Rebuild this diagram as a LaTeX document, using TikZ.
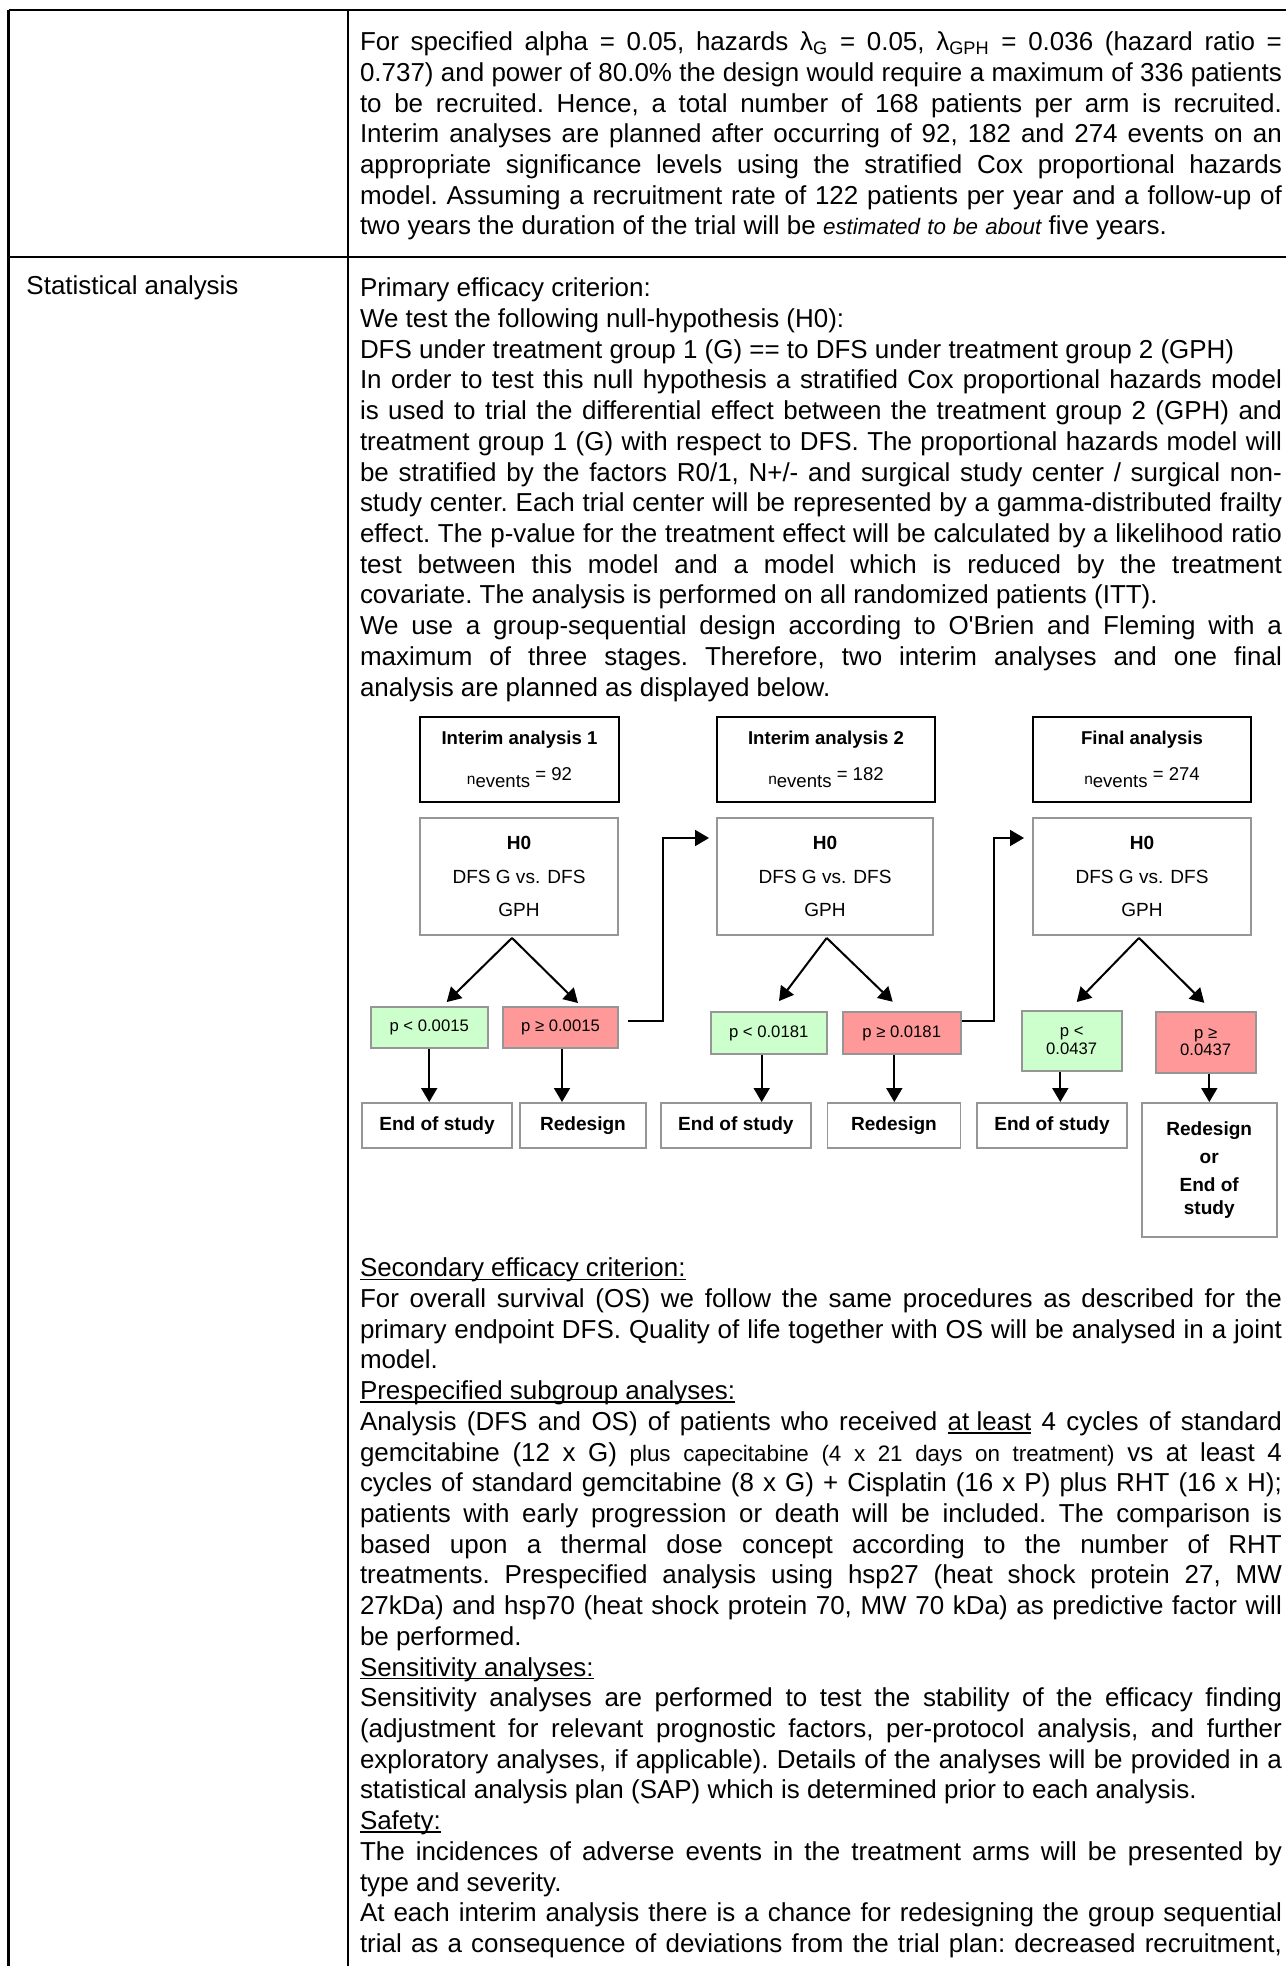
\documentclass[tikz,border=0pt]{standalone}
\usepackage{fontspec}
\setmainfont{Liberation Sans}
\usetikzlibrary{arrows.meta}

\definecolor{okgreen}{RGB}{204,255,204}
\definecolor{nored}{RGB}{255,153,153}
\definecolor{boxgray}{RGB}{150,150,150}

% one justified line / one flush-left line of the protocol text (column 387.2pt wide)
\newcommand\jl[1]{\par\noindent\hbox to 387.2pt{\spaceskip=3.03pt plus 4pt minus 1.2pt\relax\strut#1}}
\newcommand\fl[1]{\par\noindent\hbox to 387.2pt{\spaceskip=3.03pt plus 4pt minus 1.2pt\relax\strut#1\hfil}}
\newcommand\bodyfont{\fontsize{10.9}{12.9}\selectfont\frenchspacing}
\newcommand\smallpart{\fontsize{9.4}{12.9}\selectfont}
% underline that keeps the line depth unchanged
\newsavebox\ulbox
\newcommand\ul[1]{\sbox\ulbox{#1}\rlap{\rule[-1.4pt]{\wd\ulbox}{0.6pt}}\usebox\ulbox}
% number of events label
\newcommand\nev[1]{\raisebox{-1.7pt}{\fontsize{6.5}{7}\selectfont n}\raisebox{-3.2pt}{events} = #1}

\begin{document}
\begin{tikzpicture}[x=0.42pt,y=-0.42pt,
  tbl/.style={line width=0.85pt},
  body/.style={anchor=north west, inner sep=0pt, outer sep=0pt, text width=387.2pt, font=\bodyfont},
  sz/.style 2 args={minimum width=#1*0.42pt, minimum height=#2*0.42pt},
  head/.style={draw=black, line width=0.85pt, inner sep=0pt, align=center, font=\fontsize{7.8}{15.1}\selectfont},
  hyp/.style={draw=boxgray, line width=0.8pt, inner sep=0pt, align=center, font=\fontsize{8}{14}\selectfont},
  pyes/.style={draw=boxgray, fill=okgreen, line width=0.8pt, inner sep=0pt, align=center, font=\fontsize{7}{7.3}\selectfont},
  pno/.style={draw=boxgray, fill=nored, line width=0.8pt, inner sep=0pt, align=center, font=\fontsize{7}{7.3}\selectfont},
  outc/.style={draw=boxgray, line width=0.8pt, inner sep=0pt, align=center, font=\bfseries\fontsize{8}{9.7}\selectfont},
  arr/.style={-{Triangle[length=5.9pt,width=6.7pt]}, line width=0.85pt}]

\useasboundingbox (0,0) rectangle (1286,1966);
\fill[white] (0,0) rectangle (1286,1966);

% table rules
\draw[tbl] (8.5,10) -- (1286,10);
\draw[tbl] (8.5,257) -- (1286,257);
\draw[tbl] (8.5,10) -- (8.5,1966);
\draw[tbl] (348,10) -- (348,1966);

% first row: sample size
\node[body] (para1) at (360,20) {%
\jl{For specified alpha = 0.05, hazards λ\textsubscript{G} = 0.05, λ\textsubscript{GPH} = 0.036 (hazard ratio =}%
\jl{0.737) and power of 80.0\% the design would require a maximum of 336 patients}%
\jl{to be recruited. Hence, a total number of 168 patients per arm is recruited.}%
\jl{Interim analyses are planned after occurring of 92, 182 and 274 events on an}%
\jl{appropriate significance levels using the stratified Cox proportional hazards}%
\jl{model. Assuming a recruitment rate of 122 patients per year and a follow-up of}%
\fl{two years the duration of the trial will be {\smallpart\itshape estimated to be about} five years.}%
};

% second row: statistical analysis
\node[anchor=base west, inner sep=0pt, font=\bodyfont] (lbl) at (26,295) {Statistical analysis};

\node[body] (para2) at (360,266) {%
\fl{Primary efficacy criterion:}%
\fl{We test the following null-hypothesis (H0):}%
\fl{DFS under treatment group 1 (G) == to DFS under treatment group 2 (GPH)}%
\jl{In order to test this null hypothesis a stratified Cox proportional hazards model}%
\jl{is used to trial the differential effect between the treatment group 2 (GPH) and}%
\jl{treatment group 1 (G) with respect to DFS. The proportional hazards model will}%
\jl{be stratified by the factors R0/1, N+/- and surgical study center / surgical non-}%
\jl{study center. Each trial center will be represented by a gamma-distributed frailty}%
\jl{effect. The p-value for the treatment effect will be calculated by a likelihood ratio}%
\jl{test between this model and a model which is reduced by the treatment}%
\fl{covariate. The analysis is performed on all randomized patients (ITT).}%
\jl{We use a group-sequential design according to O\textquotesingle Brien and Fleming with a}%
\jl{maximum of three stages. Therefore, two interim analyses and one final}%
\fl{analysis are planned as displayed below.}%
};

% group-sequential design: stage headers
\node[head, sz={199}{85}] (ia1) at (519.5,759.5) {\textbf{Interim analysis 1}\\\nev{92}};
\node[head, sz={218}{85}] (ia2) at (826,759.5) {\textbf{Interim analysis 2}\\\nev{182}};
\node[head, sz={218}{85}] (fa) at (1142,759.5) {\textbf{Final analysis}\\\nev{274}};

% hypotheses
\node[hyp, sz={198}{117}] (h1) at (519,876.5) {\textbf{H0}\\DFS G vs. DFS\\GPH};
\node[hyp, sz={216}{117}] (h2) at (825,876.5) {\textbf{H0}\\DFS G vs. DFS\\GPH};
\node[hyp, sz={218}{117}] (h3) at (1142,876.5) {\textbf{H0}\\DFS G vs. DFS\\GPH};

% decision rules
\node[pyes, sz={117}{41}] (pl1) at (429.2,1027.5) {p < 0.0015};
\node[pno, sz={115}{41}] (pg1) at (560.5,1027.5) {p ≥ 0.0015};
\node[pyes, sz={116}{42}] (pl2) at (768.7,1033) {p < 0.0181};
\node[pno, sz={118}{42}] (pg2) at (901.7,1033) {p ≥ 0.0181};
\node[pyes, sz={100}{60}] (pl3) at (1071.7,1040.7) {p <\\0.0437};
\node[pno, sz={100}{61}] (pg3) at (1205.7,1042.3) {p ≥\\0.0437};

% outcomes
\node[outc, sz={150}{45}] (e1) at (437,1125.5) {End of study};
\node[outc, sz={126}{45}] (r1) at (583,1125.5) {Redesign};
\node[outc, sz={150}{45}] (e2) at (735.9,1125.5) {End of study};
\node[outc, sz={133}{45}] (r2) at (894,1125.5) {Redesign};
\node[outc, sz={150}{45}] (e3) at (1052,1125.5) {End of study};
\node[outc, sz={135}{134}] (re) at (1209.2,1170) {Redesign\\[2.2pt]or\\[2.2pt]End of\\study};

% branches from each hypothesis
\coordinate (ap1) at ([shift={(-7,2)}]h1.south);
\coordinate (ap2) at ([shift={(1.7,2)}]h2.south);
\coordinate (ap3) at ([shift={(-3,2)}]h3.south);
\draw[arr] (ap1) -- ([shift={(17.5,-4)}]pl1.north);
\draw[arr] (ap1) -- ([shift={(17.5,-3)}]pg1.north);
\draw[arr] (ap2) -- ([shift={(10.3,-10)}]pl2.north);
\draw[arr] (ap2) -- ([shift={(-9,-9.3)}]pg2.north);
\draw[arr] (ap3) -- ([shift={(5,-7.7)}]pl3.north);
\draw[arr] (ap3) -- ([shift={(-1.4,-8)}]pg3.north);

% decisions to outcomes
\coordinate (v1) at (pl1.south);
\coordinate (v2) at ([shift={(1.5,0)}]pg1.south);
\coordinate (v3) at ([shift={(-7,0)}]pl2.south);
\coordinate (v4) at ([shift={(-7.4,0)}]pg2.south);
\coordinate (v5) at ([shift={(-11.4,0)}]pl3.south);
\coordinate (v6) at ([shift={(3.6,0)}]pg3.south);
\draw[arr] (v1) -- (v1 |- e1.north);
\draw[arr] (v2) -- (v2 |- r1.north);
\draw[arr] (v3) -- (v3 |- e2.north);
\draw[arr] (v4) -- (v4 |- r2.north);
\draw[arr] (v5) -- (v5 |- e3.north);
\draw[arr] (v6) -- (v6 |- re.north);

% continuation to the next stage
\coordinate (s1) at ([shift={(9,-6.5)}]pg1.east);
\coordinate (t1) at ([shift={(-7,-38.5)}]h2.west);
\draw[arr] (s1) -- ++(34.7,0) |- (t1);
\coordinate (s2) at ([shift={(0,-12)}]pg2.east);
\coordinate (t2) at ([shift={(-8,-38.5)}]h3.west);
\draw[arr] (s2) -- ++(32,0) |- (t2);

% secondary criteria
\node[body] (para3) at (360,1246) {%
\fl{\ul{Secondary efficacy criterion:}}%
\jl{For overall survival (OS) we follow the same procedures as described for the}%
\jl{primary endpoint DFS. Quality of life together with OS will be analysed in a joint}%
\fl{model.}%
\fl{\ul{Prespecified subgroup analyses:}}%
\jl{Analysis (DFS and OS) of patients who received \ul{at least} 4 cycles of standard}%
\jl{gemcitabine (12 x G) {\smallpart plus capecitabine (4 x 21 days on treatment)} vs at least 4}%
\jl{cycles of standard gemcitabine (8 x G) + Cisplatin (16 x P) plus RHT (16 x H);}%
\jl{patients with early progression or death will be included. The comparison is}%
\jl{based upon a thermal dose concept according to the number of RHT}%
\jl{treatments. Prespecified analysis using hsp27 (heat shock protein 27, MW}%
\jl{27kDa) and hsp70 (heat shock protein 70, MW 70 kDa) as predictive factor will}%
\fl{be performed.}%
\fl{\ul{Sensitivity analyses:}}%
\jl{Sensitivity analyses are performed to test the stability of the efficacy finding}%
\jl{(adjustment for relevant prognostic factors, per-protocol analysis, and further}%
\jl{exploratory analyses, if applicable). Details of the analyses will be provided in a}%
\fl{statistical analysis plan (SAP) which is determined prior to each analysis.}%
\fl{\ul{Safety:}}%
\jl{The incidences of adverse events in the treatment arms will be presented by}%
\fl{type and severity.}%
\jl{At each interim analysis there is a chance for redesigning the group sequential}%
\jl{trial as a consequence of deviations from the trial plan: decreased recruitment,}%
};

\end{tikzpicture}
\end{document}
